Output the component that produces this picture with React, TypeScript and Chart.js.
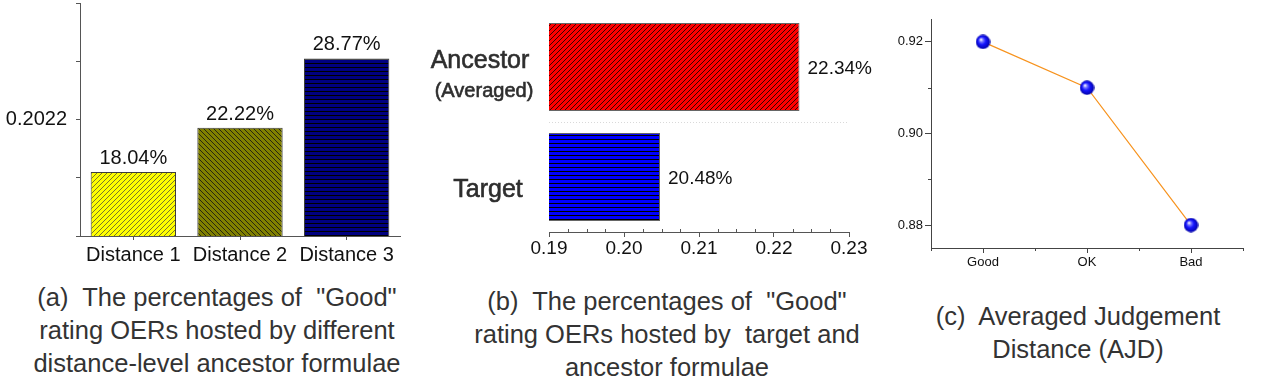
import React, { useEffect, useRef } from "react";
import { Chart, registerables } from "chart.js";
Chart.register(...registerables);

const FONT = '"Liberation Sans", Arial, Helvetica, sans-serif';

// ---------- Panel (a) data ----------
const distCategories = ["Distance 1", "Distance 2", "Distance 3"];
const distValues = [0.1804, 0.2222, 0.2877];
const distYMin = 0.12;
const distYMax = 0.34;
const distYTickLabels = ["", "", "0.2022", "", ""];

// ---------- Panel (b) data ----------
const ratingCategories = ["Ancestor", "Target"];
const ratingSubLabels = ["(Averaged)", ""];
const ratingValues = [0.2234, 0.2048];
const ratingXMin = 0.19;
const ratingXMax = 0.23;
const ratingMinorStep = 0.0025;

// ---------- Panel (c) data ----------
const ajdCategories = ["Good", "OK", "Bad"];
const ajdValues = [0.92, 0.91, 0.88];
const ajdYMin = 0.875;
const ajdYMax = 0.925;
const ajdYTicks = [0.88, 0.89, 0.9, 0.91, 0.92];
const ajdYTickLabels = ["0.88", "", "0.90", "", "0.92"];

// ---------- Captions ----------
const captionA = ['(a)  The percentages of  "Good"', "rating OERs hosted by different", "distance-level ancestor formulae"];
const captionB = ['(b)  The percentages of  "Good"', "rating OERs hosted by  target and", "ancestor formulae"];
const captionC = ["(c)  Averaged Judgement", "Distance (AJD)"];

function makePattern(ctx: CanvasRenderingContext2D, bg: string, line: string, kind: string, size: number) {
  const c = document.createElement("canvas");
  c.width = size;
  c.height = size;
  const g = c.getContext("2d")!;
  g.fillStyle = bg;
  g.fillRect(0, 0, size, size);
  g.fillStyle = line;
  for (let i = 0; i < size; i++) {
    if (kind === "h") g.fillRect(i, size - 1, 1, 1);
    else if (kind === "/") g.fillRect(i, size - 1 - i, 1, 1);
    else g.fillRect(i, i, 1, 1);
  }
  return ctx.createPattern(c, "repeat")!;
}

function makeSphere(d: number) {
  const c = document.createElement("canvas");
  c.width = d;
  c.height = d;
  const g = c.getContext("2d")!;
  const r = d / 2;
  const grad = g.createRadialGradient(r * 0.72, r * 0.68, 0.3, r, r, r);
  grad.addColorStop(0, "#ffffff");
  grad.addColorStop(0.22, "#7878ff");
  grad.addColorStop(0.5, "#1414ff");
  grad.addColorStop(1, "#0000a0");
  g.fillStyle = grad;
  g.beginPath();
  g.arc(r, r, r - 0.3, 0, Math.PI * 2);
  g.fill();
  return c;
}

function ChartBox(props: { left: number; top: number; width: number; height: number; build: (ctx: CanvasRenderingContext2D) => any }) {
  const ref = useRef<HTMLCanvasElement>(null);
  useEffect(() => {
    const canvas = ref.current!;
    const chart = new Chart(canvas, props.build(canvas.getContext("2d")!));
    return () => chart.destroy();
  }, []);
  return (
    <canvas
      ref={ref}
      width={props.width}
      height={props.height}
      style={{ position: "absolute", left: props.left, top: props.top, width: props.width, height: props.height }}
    />
  );
}

function buildA(ctx: CanvasRenderingContext2D) {
  const fills = [
    makePattern(ctx, "#ffff00", "#77772a", "/", 5),
    makePattern(ctx, "#808000", "#262610", "\\", 5),
    makePattern(ctx, "#000080", "#000000", "h", 4),
  ];
  const labelPlugin = {
    id: "labelsA",
    afterDatasetsDraw(chart: any) {
      const c = chart.ctx;
      const meta = chart.getDatasetMeta(0);
      c.save();
      c.font = `20px ${FONT}`;
      c.fillStyle = "#111";
      c.textAlign = "center";
      c.textBaseline = "alphabetic";
      meta.data.forEach((el: any, i: number) => {
        const v = chart.data.datasets[0].data[i] as number;
        c.fillText((v * 100).toFixed(2) + "%", el.x, el.y - 8);
      });
      c.restore();
    },
  };
  return {
    type: "bar",
    data: {
      labels: distCategories,
      datasets: [
        {
          data: distValues,
          backgroundColor: fills,
          borderColor: "#3c3c3c",
          borderWidth: 1,
          borderSkipped: false,
          barPercentage: 0.8,
          categoryPercentage: 1.0,
        },
      ],
    },
    plugins: [labelPlugin],
    options: {
      animation: false,
      responsive: false,
      devicePixelRatio: 1,
      layout: { padding: { top: 3, right: 20, left: 0, bottom: 0 } },
      plugins: { legend: { display: false }, tooltip: { enabled: false } },
      scales: {
        x: {
          type: "category",
          offset: true,
          grid: { offset: false, drawOnChartArea: false, tickLength: 4, tickColor: "#555" },
          border: { color: "#555" },
          ticks: { font: { family: FONT, size: 20 }, color: "#111", padding: 3, maxRotation: 0 },
          afterFit: (s: any) => {
            s.height = 34;
            s.paddingLeft = 0;
            s.paddingRight = 0;
          },
        },
        y: {
          type: "linear",
          min: distYMin,
          max: distYMax,
          afterBuildTicks: (s: any) => {
            const n = distYTickLabels.length;
            s.ticks = distYTickLabels.map((_, i) => ({ value: distYMin + ((distYMax - distYMin) * i) / (n - 1) }));
          },
          grid: { drawOnChartArea: false, tickLength: 4, tickColor: "#555" },
          border: { color: "#555" },
          ticks: {
            autoSkip: false,
            callback: (_v: any, i: number) => distYTickLabels[i],
            font: { family: FONT, size: 20 },
            color: "#111",
            padding: 9,
          },
          afterFit: (s: any) => {
            s.width = 80;
            s.paddingTop = 0;
            s.paddingBottom = 0;
          },
        },
      },
    },
  };
}

function isMajor(v: number) {
  return Math.abs(v * 100 - Math.round(v * 100)) < 1e-6;
}

function buildB(ctx: CanvasRenderingContext2D) {
  const fills = [makePattern(ctx, "#ff0000", "#3a0000", "/", 5), makePattern(ctx, "#0000ff", "#000000", "h", 4)];
  const plugin = {
    id: "labelsB",
    afterDatasetsDraw(chart: any) {
      const c = chart.ctx;
      const meta = chart.getDatasetMeta(0);
      c.save();
      c.font = `19px ${FONT}`;
      c.fillStyle = "#111";
      c.textAlign = "left";
      c.textBaseline = "middle";
      meta.data.forEach((el: any, i: number) => {
        const v = chart.data.datasets[0].data[i] as number;
        c.fillText((v * 100).toFixed(2) + "%", el.x + 8, el.y + 2);
      });
      // category labels
      const ys = chart.scales.y;
      c.fillStyle = "#2e2e2e";
      c.textAlign = "center";
      c.textBaseline = "alphabetic";
      ratingCategories.forEach((name, i) => {
        const cy = ys.getPixelForValue(i);
        const sub = ratingSubLabels[i];
        c.lineWidth = 0.6;
        c.strokeStyle = "#2e2e2e";
        if (sub) {
          c.font = `25px ${FONT}`;
          c.fillText(name, 60, cy + 1);
          c.strokeText(name, 60, cy + 1);
          c.font = `20px ${FONT}`;
          c.fillText(sub, 64, cy + 30);
          c.strokeText(sub, 64, cy + 30);
        } else {
          c.font = `25px ${FONT}`;
          c.fillText(name, 68, cy + 20);
          c.strokeText(name, 68, cy + 20);
        }
      });
      // minor ticks on x axis (pointing inward)
      const xs = chart.scales.x;
      c.strokeStyle = "#555";
      c.lineWidth = 1;
      c.beginPath();
      xs.ticks.forEach((t: any, i: number) => {
        if (!isMajor(t.value)) {
          const px = Math.round(xs.getPixelForTick(i)) + 0.5;
          c.moveTo(px, xs.top);
          c.lineTo(px, xs.top - 3);
        }
      });
      c.stroke();
      c.restore();
    },
  };
  return {
    type: "bar",
    data: {
      labels: ratingCategories,
      datasets: [
        {
          data: ratingValues,
          backgroundColor: fills,
          borderColor: "#666",
          borderWidth: 1,
          borderSkipped: false,
          barPercentage: 0.8,
          categoryPercentage: 1.0,
        },
      ],
    },
    plugins: [plugin],
    options: {
      indexAxis: "y",
      animation: false,
      responsive: false,
      devicePixelRatio: 1,
      layout: { padding: { top: 12, right: 31, left: 0, bottom: 0 } },
      plugins: { legend: { display: false }, tooltip: { enabled: false } },
      scales: {
        x: {
          type: "linear",
          min: ratingXMin,
          max: ratingXMax,
          ticks: {
            stepSize: ratingMinorStep,
            autoSkip: false,
            maxRotation: 0,
            callback: (v: any) => (isMajor(v) ? Number(v).toFixed(2) : ""),
            font: { family: FONT, size: 19 },
            color: "#111",
            padding: 0,
          },
          grid: {
            drawOnChartArea: false,
            tickLength: 5,
            tickColor: (c: any) => (c.tick && isMajor(c.tick.value) ? "#555" : "rgba(0,0,0,0)"),
          },
          border: { color: "#555" },
          afterFit: (s: any) => {
            s.height = 38;
            s.paddingLeft = 0;
            s.paddingRight = 0;
          },
        },
        y: {
          type: "category",
          offset: true,
          grid: {
            offset: true,
            drawTicks: false,
            color: (c: any) => (c.index === 1 ? "#d9d9d9" : "rgba(0,0,0,0)"),
          },
          border: { display: false, dash: [1, 2] },
          ticks: { display: false },
          afterFit: (s: any) => {
            s.width = 129;
            s.paddingTop = 0;
            s.paddingBottom = 0;
          },
        },
      },
    },
  };
}

function buildC(_ctx: CanvasRenderingContext2D) {
  const sphere = makeSphere(15);
  const plugin = {
    id: "minorC",
    afterDraw(chart: any) {
      const c = chart.ctx;
      const xs = chart.scales.x;
      const ys = chart.scales.y;
      c.save();
      c.strokeStyle = "#444";
      c.lineWidth = 1;
      c.beginPath();
      ys.ticks.forEach((t: any, i: number) => {
        if (!ajdYTickLabels[i]) {
          const py = Math.round(ys.getPixelForValue(t.value)) + 0.5;
          c.moveTo(ys.right, py);
          c.lineTo(ys.right - 3, py);
        }
      });
      for (let i = 0; i <= ajdCategories.length; i++) {
        const px = Math.round(xs.getPixelForValue(i - 0.5)) + 0.5;
        c.moveTo(px, xs.top);
        c.lineTo(px, xs.top + 3);
      }
      c.stroke();
      c.restore();
    },
  };
  return {
    type: "line",
    data: {
      labels: ajdCategories,
      datasets: [
        {
          data: ajdValues,
          borderColor: "#f7931e",
          borderWidth: 1.2,
          pointStyle: sphere,
          pointRadius: 7,
          pointHoverRadius: 7,
          tension: 0,
          fill: false,
        },
      ],
    },
    plugins: [plugin],
    options: {
      animation: false,
      responsive: false,
      devicePixelRatio: 1,
      layout: { padding: { top: 19, right: 36, left: 0, bottom: 0 } },
      plugins: { legend: { display: false }, tooltip: { enabled: false } },
      scales: {
        x: {
          type: "category",
          offset: true,
          grid: { offset: false, drawOnChartArea: false, tickLength: 5, tickColor: "#444" },
          border: { color: "#444" },
          ticks: { font: { family: FONT, size: 13 }, color: "#111", padding: 2, maxRotation: 0 },
          afterFit: (s: any) => {
            s.height = 32;
            s.paddingLeft = 0;
            s.paddingRight = 0;
          },
        },
        y: {
          type: "linear",
          min: ajdYMin,
          max: ajdYMax,
          afterBuildTicks: (s: any) => {
            s.ticks = ajdYTicks.map((v) => ({ value: v }));
          },
          grid: {
            drawOnChartArea: false,
            tickLength: 6,
            tickColor: (c: any) => (ajdYTickLabels[c.index] ? "#444" : "rgba(0,0,0,0)"),
          },
          border: { color: "#444" },
          ticks: {
            autoSkip: false,
            callback: (_v: any, i: number) => ajdYTickLabels[i],
            font: { family: FONT, size: 13 },
            color: "#111",
            padding: 2,
          },
          afterFit: (s: any) => {
            s.width = 51;
            s.paddingTop = 0;
            s.paddingBottom = 0;
          },
        },
      },
    },
  };
}

function Caption(props: { lines: string[]; center: number; top: number }) {
  return (
    <div
      style={{
        position: "absolute",
        left: props.center - 250,
        top: props.top,
        width: 500,
        textAlign: "center",
        fontFamily: FONT,
        fontSize: 25.5,
        lineHeight: "33px",
        color: "#333",
        whiteSpace: "pre",
      }}
    >
      {props.lines.map((l, i) => (
        <div key={i}>{l}</div>
      ))}
    </div>
  );
}

export default function App() {
  return (
    <div style={{ position: "absolute", left: 0, top: 0, width: 1279, height: 388, background: "#fff", overflow: "hidden" }}>
      <ChartBox left={0} top={0} width={420} height={270} build={buildA} />
      <ChartBox left={420} top={0} width={460} height={270} build={buildB} />
      <ChartBox left={880} top={0} width={399} height={280} build={buildC} />
      <Caption lines={captionA} center={217} top={281} />
      <Caption lines={captionB} center={667} top={285} />
      <Caption lines={captionC} center={1078} top={300} />
    </div>
  );
}
